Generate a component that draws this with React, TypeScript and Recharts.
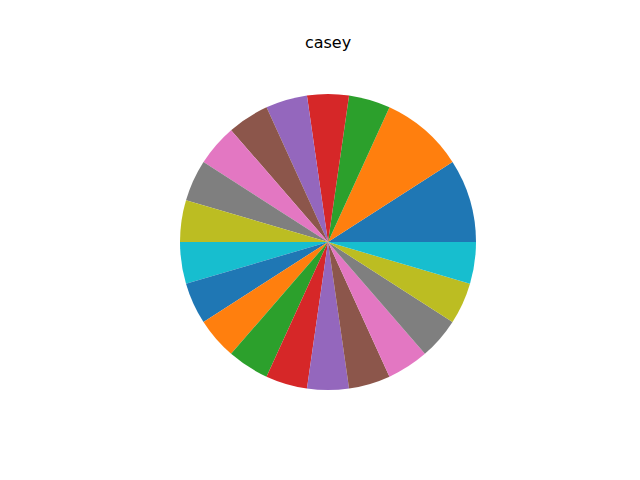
import { Cell, Pie, PieChart } from "recharts";

const COLORS = [
  "#1f77b4",
  "#ff7f0e",
  "#2ca02c",
  "#d62728",
  "#9467bd",
  "#8c564b",
  "#e377c2",
  "#7f7f7f",
  "#bcbd22",
  "#17becf",
];

const sliceNames = [
  "s1", "s2", "s3", "s4", "s5", "s6", "s7", "s8", "s9", "s10",
  "s11", "s12", "s13", "s14", "s15", "s16", "s17", "s18", "s19", "s20",
];

const sliceValues = [
  10, 10, 5, 5, 5, 5, 5, 5, 5, 5,
  5, 5, 5, 5, 5, 5, 5, 5, 5, 5,
];

const data = sliceNames.map((name, i) => ({ name, value: sliceValues[i] }));

export default function App() {
  return (
    <div
      style={{
        position: "absolute",
        left: 0,
        top: 0,
        width: 640,
        height: 480,
        background: "#fff",
      }}
    >
      <div
        style={{
          position: "absolute",
          left: 0,
          top: 33,
          width: 656,
          textAlign: "center",
          fontFamily: "DejaVu Sans",
          fontSize: 16,
          lineHeight: "19px",
          color: "#000",
        }}
      >
        casey
      </div>
      <PieChart
        width={640}
        height={480}
        margin={{ top: 0, right: 0, bottom: 0, left: 0 }}
      >
        <Pie
          data={data}
          dataKey="value"
          nameKey="name"
          cx={328}
          cy={242}
          innerRadius={0}
          outerRadius={148}
          startAngle={0}
          endAngle={360}
          stroke="none"
          isAnimationActive={false}
        >
          {data.map((_, i) => (
            <Cell key={i} fill={COLORS[i % COLORS.length]} />
          ))}
        </Pie>
      </PieChart>
    </div>
  );
}
